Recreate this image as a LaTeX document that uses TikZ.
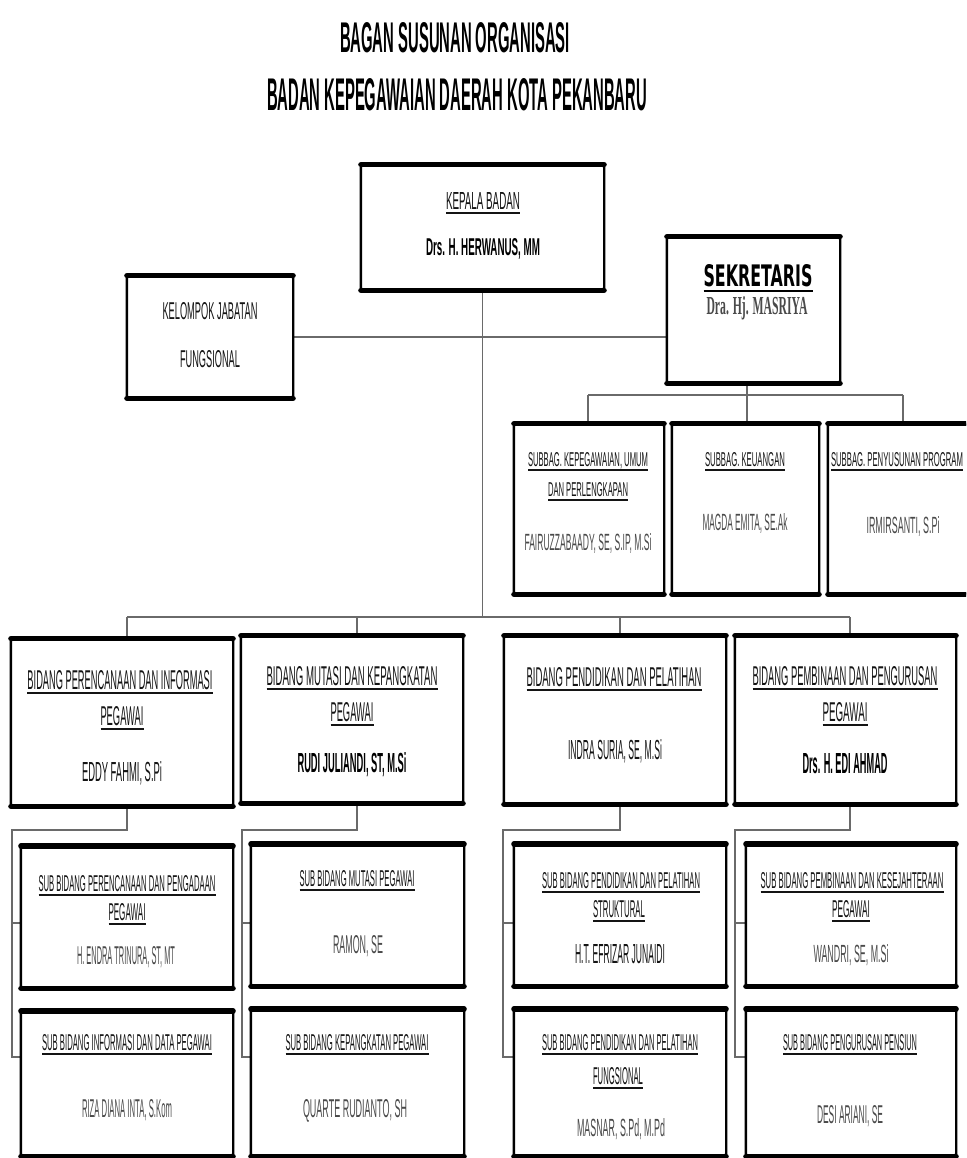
\documentclass[tikz,border=0pt]{standalone}
\usepackage{fontspec}
\usepackage{graphicx}
\setmainfont{Liberation Sans}
\newfontfamily\sekfont{DejaVu Sans}
\newfontfamily\serfont{Liberation Serif}
\usetikzlibrary{fit}
\definecolor{ink}{HTML}{141414}
\definecolor{soft}{HTML}{4A4A4A}
\definecolor{wire}{HTML}{6A6A6A}
\newdimen\pxu \pxu=0.02cm
\newcommand\fitt[3]{\resizebox{#1\pxu}{#2\pxu}{#3}}
\newsavebox\ulb
\newcommand\hul[1]{\sbox\ulb{#1}\rlap{\rule[-2.8pt]{\wd\ulb}{1.2pt}}\usebox\ulb}
\tikzset{
  box/.style={draw=black, line width=1.3pt, fill=white, inner sep=0pt, rounded corners=1.5pt},
  bar/.style={line width=3pt, line cap=round},
  conn/.style={draw=wire, line width=1pt},
  txt/.style={inner sep=0pt, text depth=0pt, anchor=center, text=ink},
  txs/.style={txt, text=soft}
}
\begin{document}
\begin{tikzpicture}[x=0.02cm, y=-0.02cm]
\useasboundingbox (0,0) rectangle (966,1158);
\fill[white] (0,0) rectangle (966,1158);
\clip (0,0) rectangle (966,1158);

% title
\node[txt, text=black] (title1) at (455,38) {\fitt{230}{30}{\bfseries BAGAN SUSUNAN ORGANISASI}};
\node[txt, text=black] (title2) at (457,95) {\fitt{380}{32}{\bfseries BADAN KEPEGAWAIAN DAERAH KOTA PEKANBARU}};

% junction coordinates
\coordinate (jB1) at (127,617);
\coordinate (jB2) at (357,617);
\coordinate (jB3) at (620,617);
\coordinate (jB4) at (850,617);
\coordinate (jS1) at (588,395);
\coordinate (jS2) at (747,395);
\coordinate (jS3) at (903,395);
\coordinate (cT1) at (127,830); \coordinate (cL1) at (12,830);
\coordinate (cT2) at (357,830); \coordinate (cL2) at (242,830);
\coordinate (cT3) at (620,830); \coordinate (cL3) at (503,830);
\coordinate (cT4) at (850,830); \coordinate (cL4) at (735,830);
\coordinate (r1y) at (0,923);
\coordinate (r2y) at (0,1057);

% box shapes
\path
  node[box, fit={(362,166) (603,289)}] (kepala) {}
  node[box, fit={(128,277) (292,397)}] (kelompok) {}
  node[box, fit={(668,238) (839,382)}] (sek) {}
  node[box, fit={(515,425) (663,593)}] (sb1) {}
  node[box, fit={(673,425) (818,593)}] (sb2) {}
  node[box, fit={(829,425) (980,593)}] (sb3) {}
  node[box, fit={(12,640) (232,805)}] (b1) {}
  node[box, fit={(242,637) (462,802)}] (b2) {}
  node[box, fit={(505,637) (725,803)}] (b3) {}
  node[box, fit={(736,637) (955,803)}] (b4) {}
  node[box, fit={(22,847) (232,987)}] (s11) {}
  node[box, fit={(22,1012) (232,1155)}] (s12) {}
  node[box, fit={(252,845) (463,985)}] (s21) {}
  node[box, fit={(252,1010) (463,1155)}] (s22) {}
  node[box, fit={(515,845) (725,985)}] (s31) {}
  node[box, fit={(515,1010) (725,1155)}] (s32) {}
  node[box, fit={(747,845) (955,985)}] (s41) {}
  node[box, fit={(747,1010) (955,1155)}] (s42) {};

% connectors
\begin{scope}[conn]
\draw (kepala.south) -- (kepala.south |- jB1);
\draw (jB1) -- (jB4);
\draw (jB1) -- (jB1 |- b1.north);
\draw (jB2) -- (jB2 |- b2.north);
\draw (jB3) -- (jB3 |- b3.north);
\draw (jB4) -- (jB4 |- b4.north);
\draw (kelompok.east) -- (kelompok.east -| sek.west);
\draw (jS2 |- sek.south) -- (jS2);
\draw (jS1) -- (jS3);
\draw (jS1) -- (jS1 |- sb1.north);
\draw (jS2) -- (jS2 |- sb2.north);
\draw (jS3) -- (jS3 |- sb3.north);
\draw (cT1 |- b1.south) -- (cT1) -- (cL1) -- (cL1 |- r2y) -- (s12.west |- r2y);
\draw (cL1 |- r1y) -- (s11.west |- r1y);
\draw (cT2 |- b2.south) -- (cT2) -- (cL2) -- (cL2 |- r2y) -- (s22.west |- r2y);
\draw (cL2 |- r1y) -- (s21.west |- r1y);
\draw (cT3 |- b3.south) -- (cT3) -- (cL3) -- (cL3 |- r2y) -- (s32.west |- r2y);
\draw (cL3 |- r1y) -- (s31.west |- r1y);
\draw (cT4 |- b4.south) -- (cT4) -- (cL4) -- (cL4 |- r2y) -- (s42.west |- r2y);
\draw (cL4 |- r1y) -- (s41.west |- r1y);
\end{scope}

% boxes on top of connectors, with heavy top and bottom edges
\foreach \n in {kepala,kelompok,sek,sb1,sb2,sb3,b1,b2,b3,b4,s11,s12,s21,s22,s31,s32,s41,s42}{
  \draw[box] (\n.north west) rectangle (\n.south east);
  \draw[bar] (\n.north west) -- (\n.north east);
  \draw[bar] (\n.south west) -- (\n.south east);
}

% texts
\node[txt] (kT1) at (483,201) {\hul{\fitt{74}{17}{KEPALA BADAN}}};
\node[txt, text=black] (kT2) at (483,247) {\fitt{114}{17}{\bfseries Drs. H. HERWANUS, MM}};

\node[txt] (fT1) at (210,311) {\fitt{95}{17}{KELOMPOK JABATAN}};
\node[txt] (fT2) at (210,359) {\fitt{60}{17}{FUNGSIONAL}};

\node[txt, text=black] (sT1) at (758,276) {\hul{\fitt{109}{22}{\sekfont\bfseries SEKRETARIS}}};
\node[txs] (sT2) at (757,306) {\fitt{101}{18}{\serfont\bfseries Dra. Hj. MASRIYA}};

\node[txt] (sb1T1) at (588,459) {\hul{\fitt{120}{14}{SUBBAG. KEPEGAWAIAN, UMUM}}};
\node[txt] (sb1T2) at (588,489) {\hul{\fitt{80}{14}{DAN PERLENGKAPAN}}};
\node[txs] (sb1T3) at (588,542) {\fitt{127}{17}{FAIRUZZABAADY, SE, S.IP, M.Si}};
\node[txt] (sb2T1) at (745,459) {\hul{\fitt{80}{14}{SUBBAG. KEUANGAN}}};
\node[txs] (sb2T2) at (745,522) {\fitt{85}{17}{MAGDA EMITA, SE.Ak}};
\node[txt] (sb3T1) at (897,459) {\hul{\fitt{132}{14}{SUBBAG. PENYUSUNAN PROGRAM}}};
\node[txs] (sb3T2) at (903,525) {\fitt{73}{17}{IRMIRSANTI, S.Pi}};

\node[txt] (b1T1) at (120,680) {\hul{\fitt{185}{19}{BIDANG PERENCANAAN DAN INFORMASI}}};
\node[txt] (b1T2) at (122,716) {\hul{\fitt{43}{19}{PEGAWAI}}};
\node[txt] (b1T3) at (122,771) {\fitt{80}{20}{EDDY FAHMI, S.Pi}};
\node[txt] (b2T1) at (352,676) {\hul{\fitt{171}{19}{BIDANG MUTASI DAN KEPANGKATAN}}};
\node[txt] (b2T2) at (352,712) {\hul{\fitt{43}{19}{PEGAWAI}}};
\node[txt, text=black] (b2T3) at (352,762) {\fitt{109}{20}{\bfseries RUDI JULIANDI, ST, M.Si}};
\node[txt] (b3T1) at (614,677) {\hul{\fitt{175}{19}{BIDANG PENDIDIKAN DAN PELATIHAN}}};
\node[txt] (b3T2) at (615,749) {\fitt{94}{20}{INDRA SURIA, SE, M.Si}};
\node[txt] (b4T1) at (845,676) {\hul{\fitt{185}{19}{BIDANG PEMBINAAN DAN PENGURUSAN}}};
\node[txt] (b4T2) at (845,712) {\hul{\fitt{45}{19}{PEGAWAI}}};
\node[txt, text=black] (b4T3) at (845,763) {\fitt{85}{20}{\bfseries Drs. H. EDI AHMAD}};

\node[txt] (s11T1) at (127,883) {\hul{\fitt{177}{16}{SUB BIDANG PERENCANAAN DAN PENGADAAN}}};
\node[txt] (s11T2) at (127,912) {\hul{\fitt{37}{17}{PEGAWAI}}};
\node[txs] (s11T3) at (126,955) {\fitt{98}{18}{H. ENDRA TRINURA, ST, MT}};
\node[txt] (s21T1) at (357,878) {\hul{\fitt{115}{16}{SUB BIDANG MUTASI PEGAWAI}}};
\node[txs] (s21T2) at (358,944) {\fitt{50}{18}{RAMON, SE}};
\node[txt] (s31T1) at (621,880) {\hul{\fitt{158}{16}{SUB BIDANG PENDIDIKAN DAN PELATIHAN}}};
\node[txt] (s31T2) at (619,909) {\hul{\fitt{52}{17}{STRUKTURAL}}};
\node[txt] (s31T3) at (620,954) {\fitt{90}{19}{H.T. EFRIZAR JUNAIDI}};
\node[txt] (s41T1) at (852,880) {\hul{\fitt{183}{16}{SUB BIDANG PEMBINAAN DAN KESEJAHTERAAN}}};
\node[txt] (s41T2) at (851,909) {\hul{\fitt{38}{17}{PEGAWAI}}};
\node[txs] (s41T3) at (851,953) {\fitt{75}{18}{WANDRI, SE, M.Si}};

\node[txt] (s12T1) at (127,1042) {\hul{\fitt{170}{16}{SUB BIDANG INFORMASI DAN DATA PEGAWAI}}};
\node[txs] (s12T2) at (127,1108) {\fitt{90}{18}{RIZA DIANA INTA, S.Kom}};
\node[txt] (s22T1) at (357,1042) {\hul{\fitt{143}{16}{SUB BIDANG KEPANGKATAN PEGAWAI}}};
\node[txs] (s22T2) at (355,1108) {\fitt{104}{18}{QUARTE RUDIANTO, SH}};
\node[txt] (s32T1) at (620,1042) {\hul{\fitt{156}{16}{SUB BIDANG PENDIDIKAN DAN PELATIHAN}}};
\node[txt] (s32T2) at (618,1076) {\hul{\fitt{50}{17}{FUNGSIONAL}}};
\node[txs] (s32T3) at (621,1127) {\fitt{88}{18}{MASNAR, S.Pd, M.Pd}};
\node[txt] (s42T1) at (850,1042) {\hul{\fitt{134}{16}{SUB BIDANG PENGURUSAN PENSIUN}}};
\node[txs] (s42T2) at (850,1114) {\fitt{66}{18}{DESI ARIANI, SE}};
\end{tikzpicture}
\end{document}
